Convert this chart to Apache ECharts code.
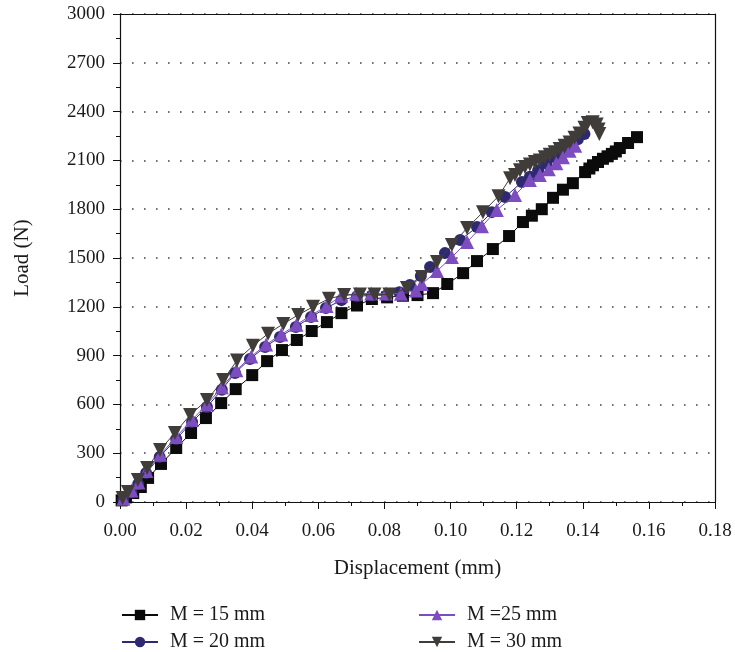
<!DOCTYPE html>
<html><head><meta charset="utf-8">
<script src="https://cdn.jsdelivr.net/npm/echarts@6/dist/echarts.min.js"></script>
<style>html,body{margin:0;padding:0;background:#fff}#c{width:735px;height:652px}</style>
</head><body><div id="c"></div>
<script>
const seriesNames = ["M = 15 mm", "M = 20 mm", "M =25 mm", "M = 30 mm"];
const yTicks = [0, 300, 600, 900, 1200, 1500, 1800, 2100, 2400, 2700, 3000];
const xTicks = [0.00, 0.02, 0.04, 0.06, 0.08, 0.10, 0.12, 0.14, 0.16, 0.18];

const disp15 = [0.0005,0.0018,0.004,0.0063,0.0085,0.0124,0.017,0.0215,0.026,0.0306,0.035,0.040,0.0445,0.049,0.0535,0.058,0.0626,0.067,0.0717,0.0762,0.0808,0.0856,0.090,0.0947,0.099,0.1038,0.108,0.1128,0.1177,0.1219,0.1246,0.1276,0.131,0.134,0.137,0.1407,0.142,0.1431,0.1446,0.1461,0.1475,0.1488,0.150,0.1512,0.1537,0.1564];
const load15 = [10,28,55,92,148,234,332,424,516,608,694,780,866,934,996,1051,1106,1161,1208,1248,1258,1268,1272,1284,1340,1407,1481,1555,1635,1721,1760,1800,1870,1920,1960,2028,2050,2070,2090,2110,2125,2140,2155,2176,2207,2243];

const disp20 = [0.001,0.0035,0.0055,0.0079,0.012,0.017,0.0218,0.0263,0.0308,0.0348,0.0393,0.0439,0.0484,0.0532,0.0578,0.0623,0.067,0.0717,0.0762,0.0808,0.0845,0.0877,0.091,0.0938,0.0983,0.1029,0.108,0.1125,0.1165,0.1216,0.124,0.1265,0.129,0.1315,0.134,0.1365,0.1385,0.1405];
const load20 = [15,60,110,178,277,387,492,584,690,793,879,953,1015,1076,1137,1192,1241,1265,1270,1272,1290,1334,1390,1445,1530,1610,1690,1782,1875,1967,2000,2040,2080,2120,2160,2200,2230,2262];

const disp25 = [0.001,0.0035,0.0056,0.008,0.0122,0.017,0.0218,0.0263,0.0308,0.0352,0.0397,0.0442,0.0488,0.0534,0.058,0.0625,0.067,0.0715,0.076,0.0805,0.085,0.0895,0.0913,0.0959,0.1004,0.105,0.1095,0.114,0.1195,0.124,0.127,0.1297,0.132,0.134,0.136,0.1377];
const load25 = [20,70,120,190,290,400,505,600,705,810,895,968,1030,1090,1150,1205,1268,1280,1282,1282,1280,1300,1340,1420,1506,1598,1695,1795,1887,1979,2010,2045,2083,2120,2160,2190];

const disp30 = [0.0008,0.0024,0.0054,0.0082,0.0121,0.0166,0.0212,0.0263,0.0312,0.0354,0.0402,0.0448,0.0494,0.0539,0.0584,0.0632,0.0678,0.0726,0.077,0.0815,0.0868,0.0913,0.0959,0.1004,0.105,0.1098,0.1145,0.118,0.1195,0.121,0.1225,0.124,0.1255,0.127,0.1285,0.130,0.1315,0.133,0.1345,0.136,0.1375,0.139,0.1405,0.1415,0.143,0.1442,0.1448,0.1450];
const load30 = [25,61,135,209,320,424,535,627,750,870,960,1035,1095,1150,1200,1250,1272,1275,1275,1275,1315,1383,1475,1580,1684,1782,1880,1990,2010,2040,2060,2075,2090,2100,2120,2135,2150,2170,2190,2210,2240,2265,2300,2330,2335,2320,2290,2262];

const colors = ['#0b0b0b', '#2f2a70', '#7d4dbf', '#403c3a'];
const symbols = ['rect', 'circle', 'triangle', 'triangle'];
const sizes = [12, 12, 14, 14];
const rotates = [0, 0, 0, 180];
const dispAll = [disp15, disp20, disp25, disp30];
const loadAll = [load15, load20, load25, load30];

const font = 'Liberation Serif';
const chart = echarts.init(document.getElementById('c'));

const series = seriesNames.map((n, i) => ({
  name: n, type: 'line',
  data: dispAll[i].map((x, k) => [x, loadAll[i][k]]),
  symbol: symbols[i], symbolSize: sizes[i], symbolRotate: rotates[i],
  showAllSymbol: true,
  itemStyle: { color: colors[i] },
  lineStyle: { color: colors[i], width: 1 },
  animation: false, z: 2 + i
}));

const legendPos = [[121, 605], [121, 632], [418, 605], [418, 632]];
const legends = seriesNames.map((n, i) => ({
  data: [n], left: legendPos[i][0], top: legendPos[i][1], padding: 0,
  itemWidth: 36, itemHeight: 13,
  textStyle: { fontFamily: font, fontSize: 20, color: '#1a1a1a', padding: [0, 0, 0, 7] }
}));

chart.setOption({
  animation: false,
  textStyle: { fontFamily: font },
  grid: { left: 120, right: 20, top: 14, bottom: 150 },
  xAxis: [{
    type: 'value', min: 0, max: 0.18, interval: 0.02,
    name: 'Displacement (mm)', nameLocation: 'middle', nameGap: 56,
    nameTextStyle: { fontFamily: font, fontSize: 21, color: '#1a1a1a' },
    axisLine: { lineStyle: { color: '#111', width: 1.2 } },
    axisTick: { inside: false, length: 7, lineStyle: { color: '#111' } },
    minorTick: { show: true, splitNumber: 2, length: 4, lineStyle: { color: '#111' } },
    axisLabel: { fontFamily: font, fontSize: 19, color: '#1a1a1a', margin: 20,
      formatter: v => v.toFixed(2) },
    splitLine: { show: false }
  }, {
    type: 'value', min: 0, max: 0.18, interval: 0.02, position: 'top',
    axisLine: { show: true, onZero: false, lineStyle: { color: '#111', width: 1.2 } },
    axisTick: { show: false }, axisLabel: { show: false }, splitLine: { show: false }
  }],
  yAxis: [{
    type: 'value', min: 0, max: 3000, interval: 300,
    name: 'Load (N)', nameLocation: 'middle', nameGap: 87, nameRotate: 90,
    nameTextStyle: { fontFamily: font, fontSize: 21, color: '#1a1a1a' },
    axisLine: { show: true, lineStyle: { color: '#111', width: 1.2 } },
    axisTick: { show: true, inside: false, length: 7, lineStyle: { color: '#111' } },
    minorTick: { show: true, splitNumber: 2, length: 4, lineStyle: { color: '#111' } },
    axisLabel: { fontFamily: font, fontSize: 19, color: '#1a1a1a', margin: 15,
      formatter: v => String(v) },
    splitLine: { show: true, lineStyle: { color: '#444', width: 1.6, type: [1.6, 10.4] } }
  }, {
    type: 'value', min: 0, max: 3000, interval: 300, position: 'right',
    axisLine: { show: true, onZero: false, lineStyle: { color: '#111', width: 1.2 } },
    axisTick: { show: false }, axisLabel: { show: false }, splitLine: { show: false }
  }],
  legend: legends,
  series: series
});
</script>
</body></html>
